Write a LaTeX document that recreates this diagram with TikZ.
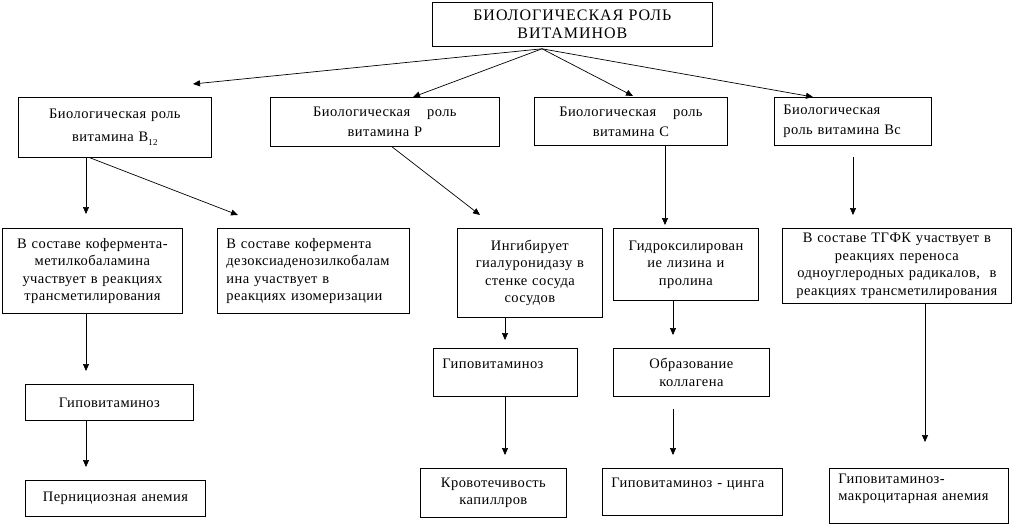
\documentclass[tikz,border=0pt]{standalone}
\usepackage{fontspec}
\setmainfont[LetterSpace=3]{Liberation Serif}
\usetikzlibrary{arrows.meta}
\newcommand\cbox[7]{%
 \pgfmathsetmacro\bw{#5-#3}\pgfmathsetmacro\bh{#6-#4}\pgfmathsetmacro\tw{#5-#3-6}%
 \node[box,#2,align=center,minimum width=\bw pt,minimum height=\bh pt,text width=\tw pt] (#1) at (#3,#4) {#7};}
\newcommand\lbox[7]{%
 \pgfmathsetmacro\bw{#5-#3}\pgfmathsetmacro\bh{#6-#4}\pgfmathsetmacro\tw{#5-#3-18}%
 \node[box,#2,align=left,minimum width=\bw pt,minimum height=\bh pt,text width=\tw pt] (#1) at (#3,#4) {#7};}
\begin{document}
\begin{tikzpicture}[x=1pt,y=-1pt,
 box/.style={draw,line width=0.8pt,inner sep=0pt,anchor=north west,font=\fontsize{14.5}{17.5}\selectfont},
 wide/.style={font=\fontsize{14.5}{23}\selectfont},
 mid/.style={font=\fontsize{14.5}{20}\selectfont},
 arr/.style={line width=0.7pt,-{Triangle[length=7pt,width=6pt]}}]
\useasboundingbox[fill=white] (0,0) rectangle (1022,528);
% level 0
\cbox{top}{font=\fontsize{16}{18}\selectfont\addfontfeature{LetterSpace=6}}{432}{2}{712}{46}{БИОЛОГИЧЕСКАЯ РОЛЬ\\ВИТАМИНОВ}
% level 1
\cbox{b12}{wide}{18}{97}{211}{157}{Биологическая роль\\витамина В\raisebox{-3.5pt}{\fontsize{9}{9}\selectfont 12}}
\cbox{p}{mid}{270}{97}{499}{146}{Биологическая\hspace{12pt} роль\\витамина Р}
\cbox{c}{mid}{534}{97}{727}{145}{Биологическая\hspace{12pt} роль\\витамина С}
\lbox{bc}{mid}{774}{97}{931}{145}{Биологическая\\роль витамина Вс}
% level 2
\cbox{k1}{}{2}{228}{182}{313}{В составе кофермента-\\метилкобаламина\\участвует в реакциях\\трансметилирования}
\lbox{k2}{}{217}{228}{409}{313}{В составе кофермента\\дезоксиаденозилкобалам\\ина участвует в\\реакциях изомеризации}
\cbox{ing}{}{457}{228}{602}{317}{Ингибирует\\гиалуронидазу в\\стенке сосуда\\сосудов}
\cbox{gid}{}{613}{228}{758}{300}{Гидроксилирован\\ие лизина и\\пролина}
\cbox{tgfk}{}{782}{228}{1011}{303}{В составе ТГФК участвует в\\реакциях переноса\\одноуглеродных радикалов,\ \ в\\реакциях трансметилирования}
% level 3
\cbox{gb12}{}{25}{384}{193}{420}{Гиповитаминоз}
\lbox{gp}{}{433}{348}{577}{396}{Гиповитаминоз\\\mbox{}}
\cbox{obr}{}{613}{348}{769}{396}{Образование\\коллагена}
% level 4
\cbox{pern}{}{25}{480}{205}{516}{Пернициозная анемия}
\cbox{krov}{}{420}{468}{566}{517}{Кровотечивость\\капиллров}
\lbox{cing}{}{602}{468}{782}{515}{Гиповитаминоз - цинга\\\mbox{}}
\lbox{mak}{}{829}{468}{1008}{523}{Гиповитаминоз-\\макроцитарная анемия\\\mbox{}}
% connectors
\coordinate (apex) at ([xshift=110pt,yshift=-2pt]top.south west);
\draw[arr] (apex) -- ([xshift=175pt,yshift=13pt]b12.north west);
\draw[arr] (apex) -- ([xshift=143pt]p.north west);
\draw[arr] (apex) -- ([xshift=99pt,yshift=1pt]c.north west);
\draw[arr] (apex) -- ([xshift=39pt]bc.north west);
\draw[arr] ([xshift=68pt]b12.south west) -- ([xshift=84pt,yshift=14pt]k1.north west);
\draw[arr] ([xshift=72pt]b12.south west) -- ([xshift=21pt,yshift=13pt]k2.north west);
\draw[arr] ([xshift=122pt]p.south west) -- ([xshift=23pt,yshift=13pt]ing.north west);
\draw[arr] ([xshift=131pt]c.south west) -- ([xshift=52pt,yshift=3pt]gid.north west);
\draw[arr] ([xshift=79pt,yshift=-11pt]bc.south west) -- ([xshift=71pt,yshift=13pt]tgfk.north west);
\draw[arr] ([xshift=84pt]k1.south west) -- ([xshift=61pt,yshift=13pt]gb12.north west);
\draw[arr] ([xshift=61pt]gb12.south west) -- ([xshift=61pt,yshift=13pt]pern.north west);
\draw[arr] ([xshift=48pt]ing.south west) -- ([xshift=72pt,yshift=8pt]gp.north west);
\draw[arr] ([xshift=60pt]gid.south west) -- ([xshift=60pt,yshift=13pt]obr.north west);
\draw[arr] ([xshift=72pt]gp.south west) -- ([xshift=85pt,yshift=13pt]krov.north west);
\draw[arr] ([xshift=60pt,yshift=-12pt]obr.south west) -- ([xshift=71pt,yshift=13pt]cing.north west);
\draw[arr] ([xshift=143pt]tgfk.south west) -- ([xshift=96pt,yshift=26pt]mak.north west);
\end{tikzpicture}
\end{document}
